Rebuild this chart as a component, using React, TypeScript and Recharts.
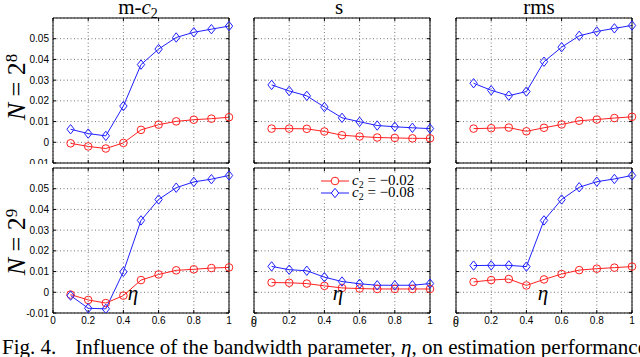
import React from 'react';
import { LineChart, Line, XAxis, YAxis, CartesianGrid } from 'recharts';

// bandwidth parameter eta
const eta = [0.1, 0.2, 0.3, 0.4, 0.5, 0.6, 0.7, 0.8, 0.9, 1.0];
const xTicks = [0, 0.2, 0.4, 0.6, 0.8, 1];
const yTicks = [-0.01, 0, 0.01, 0.02, 0.03, 0.04, 0.05];

// N = 2^8
const mc2N8Red = [-0.0005, -0.002, -0.003, -0.0003, 0.006, 0.0085, 0.0101, 0.0109, 0.0114, 0.0121];
const mc2N8Blue = [0.0063, 0.0042, 0.0031, 0.0175, 0.0375, 0.045, 0.0506, 0.0531, 0.0546, 0.0561];
const sN8Red = [0.0066, 0.0066, 0.0065, 0.0052, 0.0034, 0.0028, 0.0023, 0.0021, 0.0019, 0.0019];
const sN8Blue = [0.0277, 0.0248, 0.0224, 0.017, 0.0118, 0.0099, 0.0081, 0.0075, 0.007, 0.0066];
const rmsN8Red = [0.0066, 0.0068, 0.0071, 0.0053, 0.007, 0.0086, 0.0104, 0.011, 0.0117, 0.0123];
const rmsN8Blue = [0.0285, 0.0251, 0.0225, 0.0245, 0.0389, 0.0459, 0.0514, 0.0535, 0.055, 0.0564];

// N = 2^9
const mc2N9Red = [-0.0011, -0.0037, -0.0052, -0.0016, 0.0059, 0.0086, 0.0106, 0.0111, 0.0117, 0.012];
const mc2N9Blue = [-0.0016, -0.0077, -0.008, 0.0099, 0.0347, 0.0448, 0.0505, 0.0533, 0.0546, 0.0564];
const sN9Red = [0.0047, 0.0046, 0.0042, 0.0031, 0.0021, 0.0018, 0.0016, 0.0016, 0.0016, 0.0016];
const sN9Blue = [0.0125, 0.0109, 0.0104, 0.0073, 0.0052, 0.0041, 0.0034, 0.0034, 0.0034, 0.0042];
const rmsN9Red = [0.005, 0.0059, 0.0064, 0.0033, 0.0062, 0.0088, 0.0107, 0.0114, 0.0119, 0.0124];
const rmsN9Blue = [0.0129, 0.013, 0.013, 0.0124, 0.0347, 0.0448, 0.0507, 0.0534, 0.0547, 0.0564];

const RED = '#ff2020';
const BLUE = '#2020ff';
const SERIF = '"Liberation Serif", "Times New Roman", serif';
const SANS = '"Liberation Sans", Arial, sans-serif';

const COLS = [[53, 229], [254, 430], [456, 632]];
const ROWS = [[18, 163], [168, 313]];

const CircleDot = (p: any) => (
  <circle key={`c${p.index}`} cx={p.cx} cy={p.cy} r={3.8} fill="none" stroke={RED} strokeWidth={1} />
);

const DiamondDot = (p: any) => (
  <path
    key={`d${p.index}`}
    d={`M${p.cx},${p.cy - 4.7}L${p.cx + 3.7},${p.cy}L${p.cx},${p.cy + 4.7}L${p.cx - 3.7},${p.cy}Z`}
    fill="none"
    stroke={BLUE}
    strokeWidth={1}
  />
);

const blank = () => '';

function Panel({ col, row, red, blue }: { col: number; row: number; red: number[]; blue: number[] }) {
  const [x0, x1] = COLS[col];
  const [y0, y1] = ROWS[row];
  const showY = col === 0;
  const showX = row === 1;
  const yW = showY ? 53 : 30;
  const rW = 6;
  const xH = showX ? 20 : 1;
  const data = eta.map((x, i) => ({ x, red: red[i], blue: blue[i] }));
  const tickStyle = { fontSize: 10, fill: '#000', fontFamily: SANS };
  // the first tick label of the inner columns is not drawn by the axis, so add it as the axis label
  const zeroLabel =
    showX && col > 0
      ? { value: '0', position: 'insideLeft' as const, offset: -3, fontSize: 10, fill: '#000', fontFamily: SANS }
      : undefined;
  return (
    <div style={{ position: 'absolute', left: x0 - yW, top: y0 - 1 }}>
      <LineChart
        width={x1 - x0 + yW + rW}
        height={y1 - y0 + xH + 1}
        data={data}
        margin={{ top: 0, right: 0, bottom: 0, left: 0 }}
      >
        <CartesianGrid stroke="#777" strokeDasharray="1 2.5" />
        <XAxis
          dataKey="x"
          type="number"
          domain={[0, 1]}
          ticks={xTicks}
          interval={0}
          height={xH}
          stroke="#000"
          tickSize={-3}
          tickMargin={7}
          tick={tickStyle}
          tickFormatter={showX ? undefined : blank}
          label={zeroLabel}
        />
        <XAxis
          xAxisId="top"
          orientation="top"
          dataKey="x"
          type="number"
          domain={[0, 1]}
          ticks={xTicks}
          interval={0}
          height={1}
          stroke="#000"
          tickSize={-3}
          tickFormatter={blank}
        />
        <YAxis
          type="number"
          domain={[-0.01, 0.06]}
          ticks={yTicks}
          interval={0}
          allowDataOverflow
          width={yW}
          stroke="#000"
          tickSize={-3}
          tickMargin={7}
          tick={tickStyle}
          tickFormatter={showY ? undefined : blank}
        />
        <YAxis
          yAxisId="right"
          orientation="right"
          type="number"
          domain={[-0.01, 0.06]}
          ticks={yTicks}
          interval={0}
          allowDataOverflow
          width={rW}
          stroke="#000"
          tickSize={-3}
          tickFormatter={blank}
        />
        <Line dataKey="red" stroke={RED} strokeWidth={1} dot={CircleDot} isAnimationActive={false} />
        <Line dataKey="blue" stroke={BLUE} strokeWidth={1} dot={DiamondDot} isAnimationActive={false} />
      </LineChart>
    </div>
  );
}

const abs = (s: React.CSSProperties): React.CSSProperties => ({ position: 'absolute', whiteSpace: 'nowrap', ...s });

function Title({ cx, children }: { cx: number; children: React.ReactNode }) {
  return (
    <div style={abs({ left: cx - 50, width: 100, top: 0, textAlign: 'center', fontFamily: SERIF, fontSize: 21, lineHeight: '15px' })}>
      {children}
    </div>
  );
}

function RowLabel({ cy, exp }: { cy: number; exp: string }) {
  return (
    <div
      style={abs({
        left: 17 - 50,
        top: cy - 14,
        width: 100,
        height: 28,
        textAlign: 'center',
        fontFamily: SERIF,
        fontSize: 26,
        lineHeight: '28px',
        transform: 'rotate(-90deg)',
      })}
    >
      <i>N</i> = 2<sup style={{ fontSize: 17, verticalAlign: 'top', lineHeight: '18px' }}>{exp}</sup>
    </div>
  );
}

function Eta({ cx }: { cx: number }) {
  return (
    <div style={abs({ left: cx - 10, width: 20, top: 283, textAlign: 'center', fontFamily: SERIF, fontStyle: 'italic', fontSize: 21, lineHeight: '21px' })}>
      η
    </div>
  );
}

function LegendRow({ color, marker, label }: { color: string; marker: 'circle' | 'diamond'; label: string }) {
  return (
    <div style={{ display: 'flex', alignItems: 'center', height: 12 }}>
      <svg width={30} height={12}>
        <line x1={1} y1={6} x2={29} y2={6} stroke={color} strokeWidth={1} />
        {marker === 'circle' ? (
          <circle cx={15} cy={6} r={3.8} fill="#fff" stroke={color} />
        ) : (
          <path d="M15,1.3L18.7,6L15,10.7L11.3,6Z" fill="#fff" stroke={color} />
        )}
      </svg>
      <span style={{ fontFamily: SERIF, fontSize: 15, lineHeight: '12px', marginLeft: 2 }}>
        <i>c</i>
        <span style={{ fontSize: 10, position: 'relative', top: 3 }}>2</span> = −{label}
      </span>
    </div>
  );
}

export default function App() {
  return (
    <div style={{ position: 'absolute', left: 0, top: 0, width: 640, height: 357, overflow: 'hidden', background: '#fff' }}>
      <Title cx={138}>
        m-<i>c</i>
        <span style={{ fontSize: 14, position: 'relative', top: 4 }}>2</span>
      </Title>
      <Title cx={339}>s</Title>
      <Title cx={539}>rms</Title>
      <RowLabel cy={87} exp="8" />
      <RowLabel cy={242} exp="9" />

      <Panel col={0} row={0} red={mc2N8Red} blue={mc2N8Blue} />
      <Panel col={1} row={0} red={sN8Red} blue={sN8Blue} />
      <Panel col={2} row={0} red={rmsN8Red} blue={rmsN8Blue} />
      <Panel col={0} row={1} red={mc2N9Red} blue={mc2N9Blue} />
      <Panel col={1} row={1} red={sN9Red} blue={sN9Blue} />
      <Panel col={2} row={1} red={rmsN9Red} blue={rmsN9Blue} />

      <Eta cx={133} />
      <Eta cx={338} />
      <Eta cx={543} />

      <div style={abs({ left: 318, top: 175, background: '#fff', padding: '0 2px' })}>
        <LegendRow color={RED} marker="circle" label="0.02" />
        <LegendRow color={BLUE} marker="diamond" label="0.08" />
      </div>

      <div style={abs({ left: 2, top: 337, fontFamily: SERIF, fontSize: 21, lineHeight: '21px' })}>
        Fig. 4.<span style={{ display: 'inline-block', width: 19 }} />
        Influence of the bandwidth parameter, <i>η</i>, on estimation performance
      </div>
    </div>
  );
}
